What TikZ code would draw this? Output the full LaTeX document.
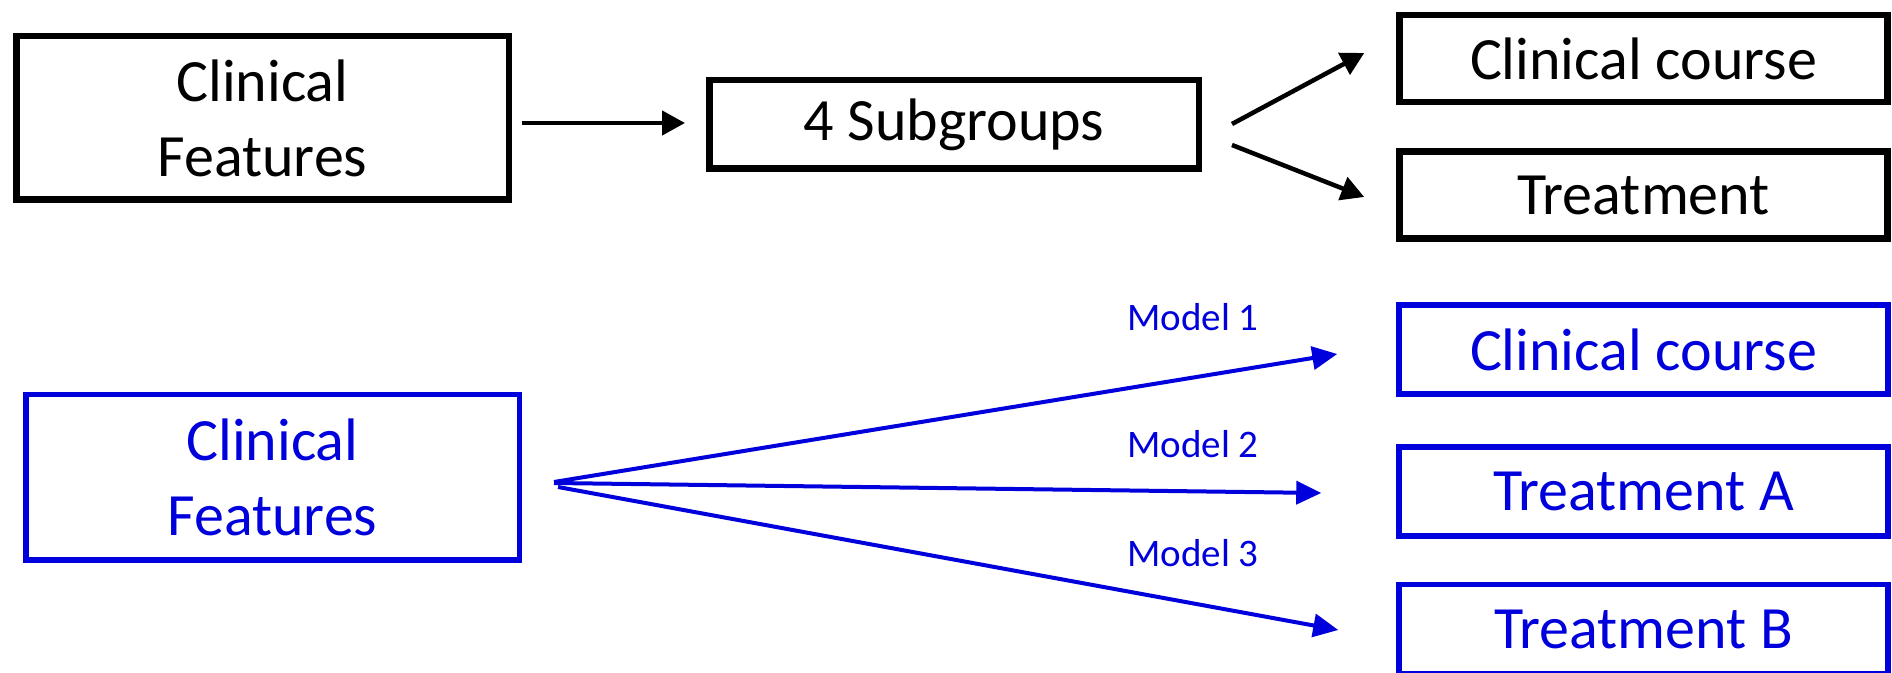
\documentclass[tikz,border=0pt]{standalone}
\usepackage{fontspec}
\setmainfont{Carlito}
\usetikzlibrary{arrows.meta,calc}
\definecolor{myblue}{RGB}{0,0,220}
\begin{document}
\begin{tikzpicture}[x=0.5pt,y=-0.5pt,
  bbox/.style={draw=black, line width=3.25pt, inner sep=0pt, align=center,
    font=\fontsize{30}{37.5}\selectfont},
  rbox/.style={bbox, minimum width=244pt, minimum height=43.5pt},
  bluebox/.style={bbox, draw=myblue, text=myblue, line width=2.75pt},
  rbluebox/.style={bluebox, minimum width=244.5pt, minimum height=44.5pt},
  blackarrow/.style={draw=black, line width=2.25pt, -{Triangle[length=11.5pt,width=12pt]}},
  bluearrow/.style={draw=myblue, line width=2pt, -{Triangle[length=12.5pt,width=11.5pt]}},
  modellabel/.style={text=myblue, font=\fontsize{19.5}{23}\selectfont, anchor=base, inner sep=0pt}
]
\useasboundingbox (0,0) rectangle (1892,673);

% top (black) row
\node[bbox, minimum width=246.25pt, minimum height=81.75pt] (A) at (262.5,118) {Clinical\\Features};
\node[bbox, minimum width=244.75pt, minimum height=44.25pt] (B) at (954,124.5) {4 Subgroups};
\node[rbox] (C) at (1643.5,58.5) {Clinical course};
\node[rbox] (D) at (1643.5,195) {Treatment};

\draw[blackarrow] ($(A.east)+(10,5)$) -- ($(B.west)+(-21,-1.5)$);
\draw[blackarrow] ($(B.east)+(30,-0.5)$) -- ($(C.west)+(-32,-5.5)$);
\draw[blackarrow] ($(B.east)+(30,20.5)$) -- ($(D.west)+(-32,2)$);

% bottom (blue) row
\node[bluebox, minimum width=246.75pt, minimum height=82.75pt] (E) at (272.5,477.5) {Clinical\\Features};
\node[rbluebox] (F) at (1643.5,349.5) {Clinical course};
\node[rbluebox] (G) at (1643.5,491.5) {Treatment A};
\node[rbluebox] (H) at (1643.5,629) {Treatment B};

\draw[bluearrow] ($(E.east)+(32,4.5)$) -- ($(F.west)+(-59,4.5)$);
\draw[bluearrow] ($(E.east)+(32,5.5)$) -- ($(G.west)+(-75,1.5)$);
\draw[bluearrow] ($(E.east)+(36,9.5)$) -- ($(H.west)+(-58,1)$);

\node[modellabel] (m1) at (1193,331) {Model 1};
\node[modellabel] (m2) at (1193,458) {Model 2};
\node[modellabel] (m3) at (1193,567) {Model 3};
\end{tikzpicture}
\end{document}
